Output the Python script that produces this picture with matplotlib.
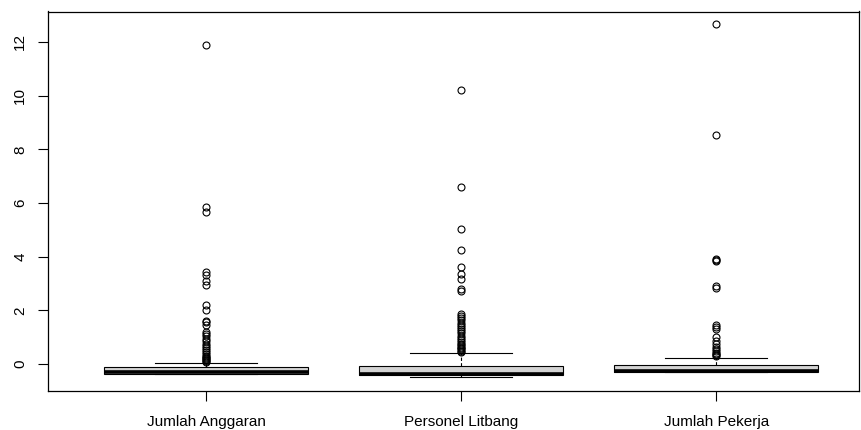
import matplotlib
matplotlib.use("Agg")
import matplotlib.pyplot as plt

plt.rcParams['font.family'] = ['Liberation Sans', 'DejaVu Sans']

categories = ["Jumlah Anggaran", "Personel Litbang", "Jumlah Pekerja"]

# box statistics (low whisker, Q1, median, Q3, high whisker)
whis_low = [-0.35, -0.47, -0.31]
q1 = [-0.35, -0.41, -0.31]
median = [-0.30, -0.36, -0.25]
q3 = [-0.12, -0.07, -0.03]
whis_high = [0.04, 0.40, 0.22]

outliers_anggaran = [11.9, 5.85, 5.65, 3.42, 3.32, 3.08, 2.95, 2.2, 2.0, 1.62, 1.58,
                     1.45, 1.2, 1.12, 1.05, 0.95, 0.85, 0.75, 0.68, 0.6, 0.52, 0.45,
                     0.38, 0.32, 0.28, 0.22, 0.18, 0.14, 0.1, 0.07]
outliers_personel = [10.2, 6.6, 5.05, 4.25, 3.62, 3.35, 3.18, 2.78, 2.72, 1.85, 1.78,
                     1.72, 1.65, 1.55, 1.45, 1.38, 1.3, 1.22, 1.15, 1.05, 0.98, 0.9,
                     0.82, 0.75, 0.7, 0.65, 0.6, 0.55, 0.5, 0.45]
outliers_pekerja = [12.65, 8.55, 3.92, 3.88, 3.85, 2.9, 2.82, 1.45, 1.38, 1.32, 1.0,
                    0.85, 0.75, 0.65, 0.55, 0.48, 0.42, 0.38, 0.34, 0.3]
outliers = [outliers_anggaran, outliers_personel, outliers_pekerja]

y_ticks = [0, 2, 4, 6, 8, 10, 12]

stats = []
for i, name in enumerate(categories):
    stats.append(dict(label=name, whislo=whis_low[i], q1=q1[i], med=median[i],
                      q3=q3[i], whishi=whis_high[i], fliers=outliers[i]))

fig = plt.figure(figsize=(8.61, 4.30), dpi=100)
ax = fig.add_axes([48 / 861, (430 - 391) / 430, 811 / 861, (391 - 11.5) / 430])

ax.bxp(stats, positions=[1, 2, 3], widths=0.8, patch_artist=True,
       boxprops=dict(facecolor='#D3D3D3', edgecolor='black', linewidth=0.8),
       medianprops=dict(color='black', linewidth=2.6, solid_capstyle='butt'),
       whiskerprops=dict(color='black', linewidth=0.8, linestyle=(0, (3, 2))),
       capprops=dict(color='black', linewidth=0.8),
       capwidths=0.4,
       flierprops=dict(marker='o', markerfacecolor='none', markeredgecolor='black',
                       markersize=5, markeredgewidth=0.8, linestyle='none'))

ax.set_xlim(0.38, 3.56)
ax.set_ylim(-1.0, 13.13)
ax.set_yticks(y_ticks)
ax.set_yticklabels([str(v) for v in y_ticks], rotation=90, va='center', fontsize=11)
ax.set_xticks([1, 2, 3])
ax.set_xticklabels(categories, fontsize=11)
ax.tick_params(axis='both', length=7, width=0.8, color='black')
ax.tick_params(axis='y', pad=8)
ax.tick_params(axis='x', pad=10)
for s in ax.spines.values():
    s.set_linewidth(0.9)
    s.set_color('black')

fig.savefig("out.png", dpi=100)
